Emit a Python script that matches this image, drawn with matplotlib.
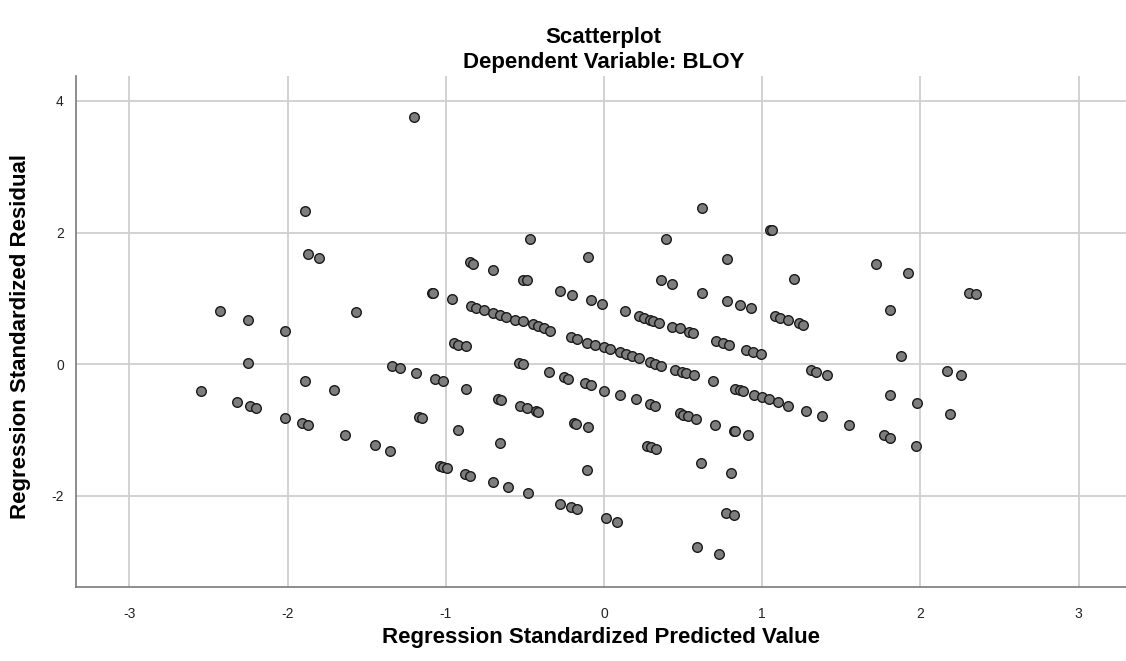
"""
Scatterplot de resíduos padronizados x valores previstos padronizados (BLOY).
"""

import matplotlib
matplotlib.use("Agg")
import matplotlib.pyplot as plt

TITLE = "Scatterplot"
SUBTITLE = "Dependent Variable: BLOY"
X_LABEL = "Regression Standardized Predicted Value"
Y_LABEL = "Regression Standardized Residual"

X_TICKS = [-3, -2, -1, 0, 1, 2, 3]
Y_TICKS = [-2, 0, 2, 4]

# Valores (valor previsto padronizado, resíduo padronizado)
pred = [
    -1.20, -1.89, -1.87, -1.80, -1.09, -1.08, -0.96, -2.43, -2.25, -1.57,
    -2.02, -0.95, -0.92, -2.25, -2.55, -2.32, -2.24, -2.20, -1.89, -1.71,
    -2.02, -1.91, -1.87, -1.64, -1.45, -1.35, -1.34, -1.29, -1.19, -1.07,
    -1.02, -1.17, -1.15, -1.04, -1.02, -0.99, -0.92,
    0.62, 1.05, 1.06, -0.47, 0.39, -0.10, 0.78, -0.85, -0.83, -0.70,
    -0.51, -0.49, 0.36, 0.43, -0.28, -0.20, -0.08, -0.01, 0.62, 0.78,
    0.86, 0.93, 0.13, -0.84, -0.81, -0.76, -0.70, -0.66, -0.62, -0.56,
    -0.51, -0.45, -0.42, -0.38, -0.34, 0.22, 0.25, 0.29, 0.31, 0.35,
    0.43, 0.48, 0.54, 0.56, 1.08, 1.11, 1.16, 1.20,
    -0.87, -0.21, -0.17, -0.11, -0.06, 0.00, 0.04, 0.10, 0.14, 0.18,
    0.22, 0.29, 0.32, 0.36, 0.45, 0.49, 0.52, 0.57, 0.71, 0.75,
    0.79, 0.90, 0.94, 0.99, -0.54, -0.51, -0.35, -0.25, -0.23, -0.12,
    -0.08, 0.00, 0.10, 0.20, 0.29, 0.32, 0.69, 0.83, 0.86, 0.88,
    0.95, 1.00, 1.04, 1.10, 1.16, -0.87, -0.67, -0.65, -0.53, -0.49,
    -0.43, -0.42, -0.19, -0.18, -0.10, 0.48, 0.50, 0.53, 0.58, 0.70,
    0.82, 0.83, 0.91, -0.66, 0.27, 0.30, 0.33, 0.61, 0.80, -0.11,
    -0.88, -0.85, -0.70, -0.61, -0.48, -0.28, -0.21, -0.17, 0.01, 0.08,
    0.77, 0.82, 0.59, 0.73,
    1.72, 1.92, 2.31, 2.35, 1.81, 1.23, 1.26,
    1.88, 1.31, 1.34, 1.41, 2.17, 2.26, 1.28, 1.38, 1.55, 1.81,
    1.98, 2.19, 1.77, 1.81, 1.97,
]
resid = [
    3.75, 2.33, 1.67, 1.62, 1.08, 1.08, 0.99, 0.81, 0.67, 0.80,
    0.50, 0.33, 0.29, 0.02, -0.40, -0.57, -0.64, -0.67, -0.25, -0.39,
    -0.81, -0.89, -0.92, -1.08, -1.23, -1.31, -0.02, -0.06, -0.14, -0.22,
    -0.26, -0.80, -0.81, -1.55, -1.56, -1.57, -1.00,
    2.37, 2.04, 2.04, 1.90, 1.90, 1.63, 1.60, 1.55, 1.53, 1.43,
    1.28, 1.28, 1.28, 1.22, 1.12, 1.05, 0.97, 0.91, 1.09, 0.96,
    0.90, 0.85, 0.81, 0.89, 0.86, 0.83, 0.78, 0.75, 0.72, 0.68,
    0.65, 0.61, 0.58, 0.55, 0.51, 0.73, 0.71, 0.68, 0.66, 0.63,
    0.57, 0.55, 0.49, 0.47, 0.73, 0.71, 0.68, 1.29,
    0.28, 0.42, 0.38, 0.33, 0.30, 0.27, 0.23, 0.19, 0.16, 0.13,
    0.10, 0.04, 0.01, -0.02, -0.09, -0.11, -0.14, -0.17, 0.36, 0.33,
    0.30, 0.22, 0.19, 0.16, 0.02, 0.00, -0.12, -0.20, -0.22, -0.29,
    -0.32, -0.40, -0.47, -0.53, -0.60, -0.63, -0.26, -0.38, -0.39, -0.41,
    -0.46, -0.50, -0.53, -0.58, -0.63, -0.38, -0.53, -0.55, -0.63, -0.67,
    -0.71, -0.72, -0.89, -0.90, -0.96, -0.74, -0.77, -0.79, -0.83, -0.92,
    -1.01, -1.02, -1.08, -1.19, -1.24, -1.26, -1.28, -1.50, -1.65, -1.60,
    -1.66, -1.69, -1.79, -1.87, -1.96, -2.12, -2.17, -2.20, -2.34, -2.39,
    -2.26, -2.29, -2.78, -2.88,
    1.53, 1.39, 1.09, 1.07, 0.83, 0.62, 0.59,
    0.13, -0.09, -0.11, -0.16, -0.10, -0.16, -0.71, -0.79, -0.92, -0.47,
    -0.59, -0.76, -1.08, -1.12, -1.24,
]

plt.rcParams["font.family"] = ["Liberation Sans", "DejaVu Sans"]
plt.rcParams["axes.unicode_minus"] = False

fig = plt.figure(figsize=(11.26, 6.61), dpi=100)
ax = fig.add_axes([0.0678, 0.1115, 0.9322, 0.7735])

ax.scatter(pred, resid, s=48, c="#7d7d7d", edgecolors="#1a1a1a",
           linewidths=1.0, zorder=3)

ax.set_xlim(-3.336, 3.30)
ax.set_ylim(-3.388, 4.379)
ax.set_xticks(X_TICKS)
ax.set_yticks(Y_TICKS)
ax.grid(True, color="#cfcfcf", linewidth=1.3, zorder=0)
ax.set_axisbelow(True)
ax.tick_params(axis="x", length=0, labelsize=10, pad=14, colors="#222222")
ax.tick_params(axis="y", length=0, labelsize=10, pad=9, colors="#222222")

for side in ("top", "right"):
    ax.spines[side].set_visible(False)
for side in ("left", "bottom"):
    ax.spines[side].set_color("#7a7a7a")
    ax.spines[side].set_linewidth(1.2)

fig.text(0.536, 0.943, TITLE, ha="center", va="center",
         fontsize=16, fontweight="bold")
fig.text(0.536, 0.906, SUBTITLE, ha="center", va="center",
         fontsize=16, fontweight="bold")
ax.set_xlabel(X_LABEL, fontsize=16, fontweight="bold")
ax.set_ylabel(Y_LABEL, fontsize=16, fontweight="bold")
ax.xaxis.set_label_coords(0.5, -0.099)
ax.yaxis.set_label_coords(-0.0536, 0.49)
ax.xaxis.label.set_va("center")
ax.yaxis.label.set_va("center")

fig.savefig("out.png", dpi=100)
